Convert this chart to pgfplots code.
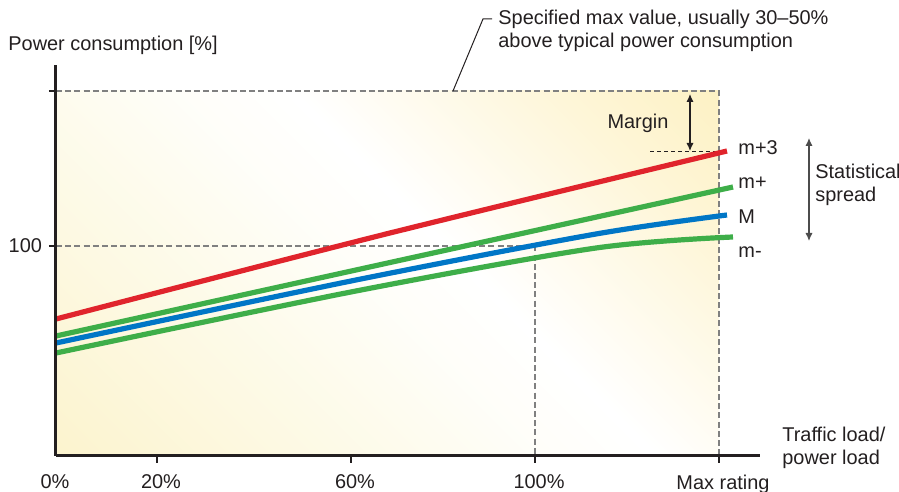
\documentclass[border=0pt]{standalone}
\usepackage{pgfplots}
\pgfplotsset{compat=1.18}
\usepackage{fontspec}
\setmainfont{Liberation Sans}
\usetikzlibrary{arrows.meta}
\definecolor{ink}{RGB}{35,31,32}
\definecolor{cred}{RGB}{224,36,44}
\definecolor{cgreen}{RGB}{62,174,73}
\definecolor{cblue}{RGB}{0,118,198}
\definecolor{dgray}{RGB}{128,128,128}
\pgfdeclareverticalshading{bgshade}{100bp}{%
  rgb(0bp)=(0.988,0.955,0.810);
  rgb(15bp)=(0.988,0.955,0.810);
  rgb(32bp)=(0.992,0.978,0.895);
  rgb(48bp)=(0.998,0.995,0.975);
  rgb(56bp)=(1,1,1);
  rgb(74bp)=(0.996,0.965,0.850);
  rgb(86bp)=(0.992,0.945,0.765);
  rgb(100bp)=(0.992,0.945,0.765)}
\begin{document}
\begin{tikzpicture}[font=\fontsize{10}{11.5}\selectfont, text=ink]
\begin{axis}[
  x=0.5bp, y=0.5bp,
  xmin=0, xmax=704, ymin=0, ymax=391,
  axis lines=left,
  axis line style={-, line width=1.5bp, draw=ink},
  clip=false,
  axis on top,
  tick align=outside,
  major tick length=3.5bp,
  tick style={line width=0.9bp, draw=ink},
  xtick={101,295,479,663},
  xticklabels={20\%,60\%,100\%,Max rating},
  extra x ticks={0},
  extra x tick labels={0\%},
  extra x tick style={major tick length=0pt, xticklabel style={yshift=-3.5bp, xshift=-2.5bp}},
  ytick={210,365},
  yticklabels={100,{}},
  xticklabel style={font=\fontsize{10}{11.5}\selectfont, text=ink, xshift=2bp, yshift=-2.5bp},
  yticklabel style={font=\fontsize{10}{11.5}\selectfont, text=ink},
]
% background shading
\path[shading=bgshade, shading angle=-45]
  (axis cs:0,0) rectangle (axis cs:663,365);
% guide dashed lines
\draw[dgray, line width=0.8bp, dash pattern=on 3bp off 1.6bp] (axis cs:0,365) -- (axis cs:663,365) -- (axis cs:663,0);
\draw[dgray, line width=0.8bp, dash pattern=on 3bp off 1.6bp] (axis cs:0,210) -- (axis cs:479,210) -- (axis cs:479,0);
\draw[ink, line width=0.5bp, dash pattern=on 2bp off 1.5bp] (axis cs:594,304) -- (axis cs:671,304);

\addplot[cgreen, line width=2.6bp, smooth] coordinates {(0,103) (300,165) (540,208) (677,219)};
\addplot[cblue, line width=2.6bp, smooth] coordinates {(0,113) (300,176) (540,222) (671,241)};
\addplot[cgreen, line width=2.6bp, smooth] coordinates {(0,120) (300,186) (677,269)};
\addplot[cred, line width=2.6bp, smooth] coordinates {(0,137) (330,222) (671,305)};

% curve labels
\node[anchor=west, inner sep=0pt] at (axis cs:682,308) {m+3};
\node[anchor=west, inner sep=0pt] at (axis cs:682,273) {m+};
\node[anchor=west, inner sep=0pt] at (axis cs:682,239) {M};
\node[anchor=west, inner sep=0pt] at (axis cs:682,204) {m-};
% margin
\draw[ink, line width=0.6bp, {Latex[length=4bp,width=3.6bp]}-{Latex[length=4bp,width=3.6bp]}] (axis cs:634,362) -- (axis cs:634,305);
\node[inner sep=0pt] at (axis cs:582,333) {Margin};
% statistical spread
\draw[black!70, line width=0.6bp, {Latex[length=4bp,width=3.6bp]}-{Latex[length=4bp,width=3.6bp]}] (axis cs:753,318) -- (axis cs:753,215);
\node[anchor=west, inner sep=0pt, align=left] at (axis cs:759,271) {Statistical\\spread};
% callout
\draw[ink, line width=0.5bp] (axis cs:397,365) -- (axis cs:427,437) -- (axis cs:436,437);
\node[anchor=west, inner sep=0pt, align=left] at (axis cs:442,425) {Specified max value, usually 30–50\%\\above typical power consumption};
% axis titles
\node[anchor=west, inner sep=0pt] at (axis cs:-48,411) {Power consumption [\%]};
\node[anchor=west, inner sep=0pt, align=left] at (axis cs:726,8) {Traffic load/\\power load};

\coordinate (BL) at (axis cs:-56,-36);
\coordinate (TR) at (axis cs:843,456);
\end{axis}
\pgfresetboundingbox
\path[use as bounding box] (BL) rectangle (TR);
\end{tikzpicture}
\end{document}
